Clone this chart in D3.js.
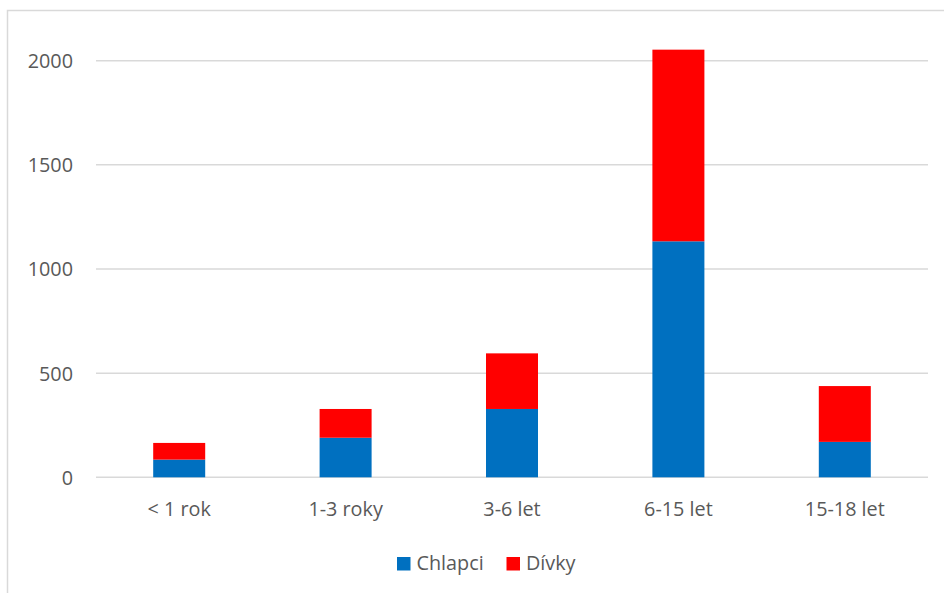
<!DOCTYPE html>
<html>
<head>
<meta charset="utf-8">
<script src="https://cdn.jsdelivr.net/npm/d3@7"></script>
<style>
  html, body { margin: 0; padding: 0; background: #fff; }
  svg { display: block; }
  text { font-family: "Open Sans", "Noto Sans", sans-serif; fill: #595959; }
</style>
</head>
<body>
<svg id="chart" width="944" height="593"></svg>
<script>
// Age groups and counts per group
const categories = ["< 1 rok", "1-3 roky", "3-6 let", "6-15 let", "15-18 let"];
const chlapci = [85, 190, 328, 1133, 170];
const divky = [80, 138, 267, 920, 268];
const seriesNames = ["Chlapci", "Dívky"];
const seriesColors = ["#0070c0", "#ff0000"];
const yTicks = [0, 500, 1000, 1500, 2000];

const svg = d3.select("#chart");
const W = 944, H = 593;

// outer frame
svg.append("rect")
  .attr("x", 7.5).attr("y", 10.5)
  .attr("width", W + 20).attr("height", H + 20)
  .attr("fill", "#fff").attr("stroke", "#d9d9d9").attr("stroke-width", 1.5);

const plot = { left: 96, right: 928, top: 60.7, bottom: 477.3 };

const x = d3.scaleBand().domain(categories).range([plot.left, plot.right]).padding(0);
const y = d3.scaleLinear().domain([0, 2000]).range([plot.bottom, plot.top]);

// horizontal gridlines
svg.append("g")
  .selectAll("line")
  .data(yTicks)
  .join("line")
  .attr("x1", plot.left).attr("x2", plot.right)
  .attr("y1", d => y(d)).attr("y2", d => y(d))
  .attr("stroke", "#d9d9d9").attr("stroke-width", 1.5);

// y axis labels
const yAxis = d3.axisLeft(y).tickValues(yTicks).tickFormat(d3.format("d")).tickSize(0).tickPadding(0);
const gy = svg.append("g").attr("transform", `translate(73,0)`).call(yAxis);
gy.select(".domain").remove();
gy.selectAll("text")
  .attr("font-size", 19.8)
  .attr("font-family", "'Open Sans', sans-serif")
  .attr("fill", "#595959")
  .attr("dy", "0.35em");

// stacked bars
const rows = categories.map((c, i) => ({ cat: c, Chlapci: chlapci[i], "Dívky": divky[i] }));
const stack = d3.stack().keys(seriesNames)(rows);
const barW = x.bandwidth() * 0.3125;

svg.append("g")
  .selectAll("g")
  .data(stack)
  .join("g")
  .attr("fill", (d, i) => seriesColors[i])
  .selectAll("rect")
  .data(d => d)
  .join("rect")
  .attr("x", d => x(d.data.cat) + (x.bandwidth() - barW) / 2)
  .attr("width", barW)
  .attr("y", d => y(d[1]))
  .attr("height", d => y(d[0]) - y(d[1]));

// x axis labels
const xAxis = d3.axisBottom(x).tickSize(0).tickPadding(0);
const gx = svg.append("g").attr("transform", `translate(0,${plot.bottom})`).call(xAxis);
gx.select(".domain").remove();
gx.selectAll("text")
  .attr("font-size", 19.8)
  .attr("font-family", "'Open Sans', sans-serif")
  .attr("fill", "#595959")
  .attr("dy", 0)
  .attr("y", 38.5);

// legend
const legendItems = [
  { name: seriesNames[0], color: seriesColors[0], x: 397 },
  { name: seriesNames[1], color: seriesColors[1], x: 506.5 }
];
const lg = svg.append("g");
legendItems.forEach(it => {
  lg.append("rect")
    .attr("x", it.x).attr("y", 557)
    .attr("width", 13.5).attr("height", 13.5)
    .attr("fill", it.color);
  lg.append("text")
    .attr("x", it.x + 19.5).attr("y", 570)
    .attr("font-size", 19.8)
    .text(it.name);
});
</script>
</body>
</html>
